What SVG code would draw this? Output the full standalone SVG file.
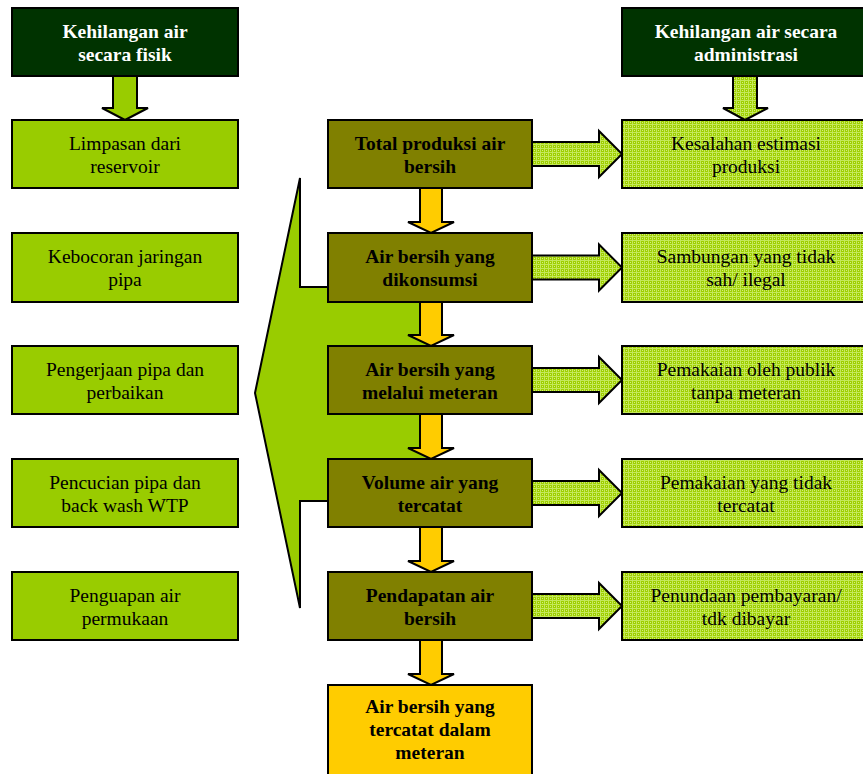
<svg xmlns="http://www.w3.org/2000/svg" width="863" height="774" viewBox="0 0 863 774">
<defs>
<pattern id="grid" width="4" height="4" patternUnits="userSpaceOnUse">
<rect width="4" height="4" fill="#9fcf00"/>
<rect x="0" y="0" width="4" height="1" fill="#c4e85a"/>
<rect x="0" y="0" width="1" height="4" fill="#c4e85a"/>
<rect x="2" y="2" width="1" height="1" fill="#d2ef80"/>
</pattern>
</defs>
<style>
.hdr{fill:#003300;stroke:#000;stroke-width:2}
.lbox{fill:#99cc00;stroke:#000;stroke-width:2}
.mbox{fill:#808000;stroke:#000;stroke-width:2}
.rbox{fill:url(#grid);stroke:#000;stroke-width:2}
.ybox{fill:#ffcc00;stroke:#000;stroke-width:2}
.garr{fill:#99cc00;stroke:#000;stroke-width:2;stroke-linejoin:miter}
.parr{fill:url(#grid);stroke:#000;stroke-width:2}
.yarr{fill:#ffcc00;stroke:#000;stroke-width:2}
text{font-family:"Liberation Serif","Times New Roman",serif;font-size:19.5px;text-anchor:middle}
.b{font-weight:bold}
.w{fill:#fff;font-weight:bold}
.k{fill:#000}
</style>

<g id="loss-arrow">
<polygon class="garr" points="255,393 300,178 300,287 430,287 430,501 300,501 300,608"/>
</g>

<g id="connectors">
<polygon class="garr" points="113,76 137,76 137,108 148,108 125,120 102,108 113,108"/>
<polygon class="parr" points="733,76 757,76 757,108 768,108 745,120 723,108 733,108"/>
<polygon class="yarr" points="420,188 442,188 442,222 454,222 431,233 408,222 420,222"/>
<polygon class="yarr" points="420,302 442,302 442,335 454,335 431,346 408,335 420,335"/>
<polygon class="yarr" points="420,414 442,414 442,448 454,448 431,459 408,448 420,448"/>
<polygon class="yarr" points="420,527 442,527 442,561 454,561 431,572 408,561 420,561"/>
<polygon class="yarr" points="420,640 442,640 442,674 454,674 431,685 408,674 420,674"/>
<polygon class="parr" points="532,142 599,142 599,131 622,154 599,177 599,166 532,166"/>
<polygon class="parr" points="532,255.5 599,255.5 599,244.5 622,267.5 599,290.5 599,279.5 532,279.5"/>
<polygon class="parr" points="532,368 599,368 599,357 622,380 599,403 599,392 532,392"/>
<polygon class="parr" points="532,481 599,481 599,470 622,493 599,516 599,505 532,505"/>
<polygon class="parr" points="532,594 599,594 599,583 622,606 599,629 599,618 532,618"/>
</g>

<g id="hdr-fisik">
<rect class="hdr" x="12" y="8" width="226" height="68"/>
<text class="w" x="125" y="37.5">Kehilangan air</text>
<text class="w" x="125" y="60.5">secara fisik</text>
</g>
<g id="hdr-admin">
<rect class="hdr" x="622" y="8" width="250" height="68"/>
<text class="w" x="746" y="37.5">Kehilangan air secara</text>
<text class="w" x="746" y="60.5">administrasi</text>
</g>

<g id="limpasan">
<rect class="lbox" x="12" y="120" width="226" height="68"/>
<text class="k" x="125" y="149.5">Limpasan dari</text>
<text class="k" x="125" y="172.5">reservoir</text>
</g>
<g id="kebocoran">
<rect class="lbox" x="12" y="233" width="226" height="69"/>
<text class="k" x="125" y="263">Kebocoran jaringan</text>
<text class="k" x="125" y="286">pipa</text>
</g>
<g id="pengerjaan">
<rect class="lbox" x="12" y="346" width="226" height="68"/>
<text class="k" x="125" y="375.5">Pengerjaan pipa dan</text>
<text class="k" x="125" y="398.5">perbaikan</text>
</g>
<g id="pencucian">
<rect class="lbox" x="12" y="459" width="226" height="68"/>
<text class="k" x="125" y="488.5">Pencucian pipa dan</text>
<text class="k" x="125" y="511.5">back wash WTP</text>
</g>
<g id="penguapan">
<rect class="lbox" x="12" y="572" width="226" height="68"/>
<text class="k" x="125" y="601.5">Penguapan air</text>
<text class="k" x="125" y="624.5">permukaan</text>
</g>

<g id="total-produksi">
<rect class="mbox" x="328" y="120" width="204" height="68"/>
<text class="b" x="430" y="149.5">Total produksi air</text>
<text class="b" x="430" y="172.5">bersih</text>
</g>
<g id="dikonsumsi">
<rect class="mbox" x="328" y="233" width="204" height="69"/>
<text class="b" x="430" y="263">Air bersih yang</text>
<text class="b" x="430" y="286">dikonsumsi</text>
</g>
<g id="melalui-meteran">
<rect class="mbox" x="328" y="346" width="204" height="68"/>
<text class="b" x="430" y="375.5">Air bersih yang</text>
<text class="b" x="430" y="398.5">melalui meteran</text>
</g>
<g id="volume-tercatat">
<rect class="mbox" x="328" y="459" width="204" height="68"/>
<text class="b" x="430" y="488.5">Volume air yang</text>
<text class="b" x="430" y="511.5">tercatat</text>
</g>
<g id="pendapatan">
<rect class="mbox" x="328" y="572" width="204" height="68"/>
<text class="b" x="430" y="601.5">Pendapatan air</text>
<text class="b" x="430" y="624.5">bersih</text>
</g>
<g id="tercatat-meteran">
<rect class="ybox" x="328" y="685" width="204" height="110"/>
<text class="b" x="430" y="713">Air bersih yang</text>
<text class="b" x="430" y="736">tercatat dalam</text>
<text class="b" x="430" y="759">meteran</text>
</g>

<g id="kesalahan">
<rect class="rbox" x="622" y="120" width="250" height="68"/>
<text class="k" x="746" y="149.5">Kesalahan estimasi</text>
<text class="k" x="746" y="172.5">produksi</text>
</g>
<g id="sambungan">
<rect class="rbox" x="622" y="233" width="250" height="69"/>
<text class="k" x="746" y="263">Sambungan yang tidak</text>
<text class="k" x="746" y="286">sah/ ilegal</text>
</g>
<g id="pemakaian-publik">
<rect class="rbox" x="622" y="346" width="250" height="68"/>
<text class="k" x="746" y="375.5">Pemakaian oleh publik</text>
<text class="k" x="746" y="398.5">tanpa meteran</text>
</g>
<g id="pemakaian-tidak-tercatat">
<rect class="rbox" x="622" y="459" width="250" height="68"/>
<text class="k" x="746" y="488.5">Pemakaian yang tidak</text>
<text class="k" x="746" y="511.5">tercatat</text>
</g>
<g id="penundaan">
<rect class="rbox" x="622" y="572" width="250" height="68"/>
<text class="k" x="746" y="601.5">Penundaan pembayaran/</text>
<text class="k" x="746" y="624.5">tdk dibayar</text>
</g>
</svg>
